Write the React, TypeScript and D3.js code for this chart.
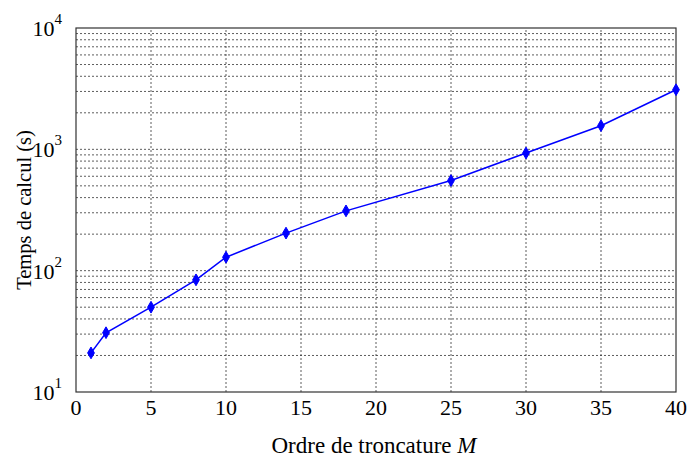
import React from 'react';
import * as d3 from 'd3';

const ordre = [1, 2, 5, 8, 10, 14, 18, 25, 30, 35, 40];
const temps = [21, 30.8, 50, 84, 129, 204, 311, 553, 932, 1566, 3100];
const xTicks = [0, 5, 10, 15, 20, 25, 30, 35, 40];
const yDecades = [1, 2, 3, 4];

const W = 688;
const H = 461;
const margin = { left: 76, right: 12, top: 28, bottom: 69 };

const App = () => {
    const x = d3.scaleLinear().domain([0, 40]).range([margin.left, W - margin.right]);
    const y = d3.scaleLog().domain([10, 10000]).range([H - margin.bottom, margin.top]);

    const gridY: number[] = [];
    for (let d = 10; d < 10000; d *= 10) {
        for (let k = 1; k <= 9; k++) {
            if (d * k > 10) gridY.push(d * k);
        }
    }

    const line = d3
        .line<number>()
        .x((_, i) => x(ordre[i]))
        .y((v) => y(v));

    const diamond = d3.symbol().type(d3.symbolDiamond).size(40)() as string;
    const font = "'Liberation Serif', 'Times New Roman', serif";
    const x0 = x(0);
    const x1 = x(40);
    const yb = y(10);
    const yt = y(10000);

    return (
        <svg width={W} height={H} style={{ position: 'absolute', left: 0, top: 0, fontFamily: font }}>
            <rect x={0} y={0} width={W} height={H} fill="#fff" />
            <g stroke="#333" strokeWidth={0.8} strokeDasharray="2,2">
                {gridY.map((v) => (
                    <line key={'gy' + v} x1={x0} x2={x1} y1={y(v)} y2={y(v)} />
                ))}
                {xTicks.slice(1, -1).map((t) => (
                    <line key={'gx' + t} x1={x(t)} x2={x(t)} y1={yb} y2={yt} />
                ))}
            </g>
            <rect x={x0} y={yt} width={x1 - x0} height={yb - yt} fill="none" stroke="#333" strokeWidth={1.2} />
            <g fill="#000" fontSize={22} style={{ fontFamily: font }}>
                {xTicks.map((t) => (
                    <text key={'tx' + t} x={x(t)} y={415} textAnchor="middle">
                        {t}
                    </text>
                ))}
                {yDecades.map((e) => (
                    <text key={'ty' + e} x={x0 - 14} y={y(Math.pow(10, e)) + 8} textAnchor="end">
                        10
                        <tspan fontSize={15} dy={-12}>
                            {e}
                        </tspan>
                    </text>
                ))}
                <text
                    transform={`translate(31,${(yb + yt) / 2}) rotate(-90)`}
                    textAnchor="middle"
                    fontSize={20.5}
                >
                    Temps de calcul (s)
                </text>
                <text x={(x0 + x1) / 2 - 2} y={453} textAnchor="middle" fontSize={23}>
                    Ordre de troncature <tspan fontStyle="italic">M</tspan>
                </text>
            </g>
            <path d={line(temps) || ''} fill="none" stroke="#0000ff" strokeWidth={1.5} />
            {temps.map((v, i) => (
                <path key={'m' + i} d={diamond} transform={`translate(${x(ordre[i])},${y(v)})`} fill="#0000ff" stroke="#0000ff" />
            ))}
        </svg>
    );
};

export default App;
